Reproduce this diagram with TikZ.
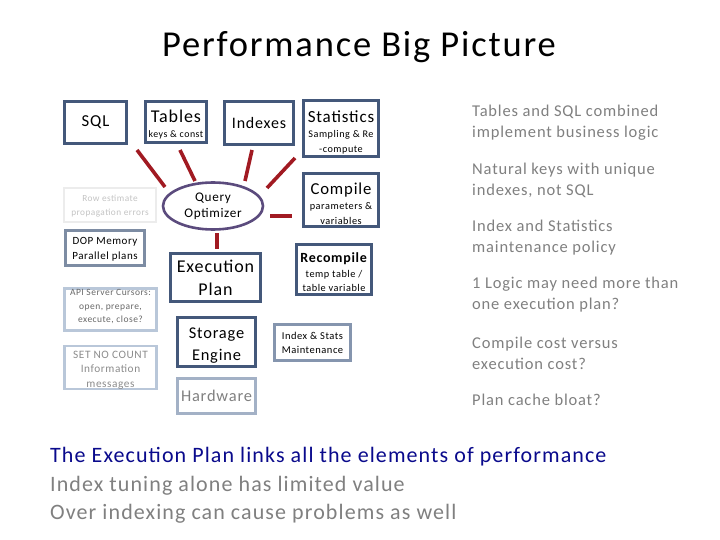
\documentclass[tikz,border=0pt]{standalone}
\usepackage{fontspec}
\setmainfont{Carlito}[LetterSpace=5]
\usetikzlibrary{shapes.geometric}
\definecolor{boxdark}{RGB}{68,88,122}
\definecolor{boxmid}{RGB}{125,140,163}
\definecolor{boxis}{RGB}{133,149,174}
\definecolor{boxhw}{RGB}{163,177,198}
\definecolor{boxlight}{RGB}{185,199,217}
\definecolor{boxfaint}{RGB}{236,236,236}
\definecolor{ellcol}{RGB}{91,75,125}
\definecolor{linkred}{RGB}{161,26,34}
\definecolor{graytext}{RGB}{128,128,128}
\definecolor{bluetext}{RGB}{10,10,140}
\newcommand{\fs}[2]{\fontsize{#1}{#2}\selectfont}
\newcommand{\up}[1]{\rule{0pt}{#1}}
\newcommand{\dn}[1]{\rule[-#1]{0pt}{0pt}}
\tikzset{
  box/.style={draw=boxdark, line width=2.6pt, fill=white, rectangle, align=center, inner sep=0pt},
  link/.style={draw=linkred, line width=3.6pt},
  side/.style={anchor=west, align=left, text=graytext, inner sep=0pt, font=\fs{16.5}{21}},
  bottom/.style={anchor=base west, inner sep=0pt, font=\fs{22}{29}}
}
\begin{document}
\begin{tikzpicture}[x=1pt,y=-1pt]
\fill[white] (0,0) rectangle (720,540);
\useasboundingbox (0,0) rectangle (720,540);

\node[inner sep=0pt, font=\fs{36.5}{40}] (title) at (359,47) {Performance Big Picture};

% top row
\node[box, font=\fs{16.7}{18}, minimum width=62pt, minimum height=42pt] (sql) at (95.5,122.5) {SQL};
\node[box, font=\fs{9.9}{15}, minimum width=61pt, minimum height=41pt] (tables) at (176,122) {{\fs{18}{15}\up{18.5pt}Tables}\\keys \& const};
\node[box, font=\fs{16}{18}, minimum width=69pt, minimum height=43pt] (indexes) at (259,123) {Indexes};
\node[box, font=\fs{10.2}{14.5}, minimum width=75pt, minimum height=56pt] (stats) at (341,128.5) {{\fs{17}{14.5}\up{20pt}Statistics}\\[0.5pt]Sampling \& Re\\-compute};
\node[box, font=\fs{10.3}{14.5}, minimum width=75pt, minimum height=53pt] (compile) at (341,200) {{\fs{16.7}{14.5}\up{19pt}Compile}\\[0.5pt]parameters \&\\variables};
\node[box, font=\fs{10.3}{13.3}, minimum width=75pt, minimum height=50pt] (recompile) at (334,269.5) {{\fs{14}{14}\up{15pt}\textbf{Recompile}}\\[1.5pt]temp table /\\table variable};
\node[box, draw=boxis, font=\fs{10.5}{14}, minimum width=76pt, minimum height=36pt] (idxstats) at (312.5,342.5) {Index \& Stats\\Maintenance};

% centre column
\node[draw=ellcol, line width=2.6pt, ellipse, minimum width=100pt, minimum height=47pt, inner sep=0pt, fill=white, align=center, font=\fs{13.2}{16}] (qo) at (213,206) {Query\\Optimizer};
\node[box, font=\fs{18}{23}, minimum width=90pt, minimum height=48pt] (exec) at (215.5,277.5) {Execution\\Plan};
\node[box, font=\fs{16.4}{22}, minimum width=78pt, minimum height=49pt] (storage) at (216.5,342) {\up{18.5pt}Storage\\Engine};
\node[box, draw=boxhw, text=graytext, font=\fs{16.4}{18}, minimum width=78pt, minimum height=35pt] (hw) at (216.5,396) {Hardware};

% left column
\node[box, draw=boxfaint, text={rgb,255:red,196;green,196;blue,196}, font=\fs{9.3}{14}, minimum width=92pt, minimum height=34pt] (rowest) at (110,205) {\up{9pt}Row estimate\\propagation errors};
\node[box, draw=boxmid, font=\fs{11}{15}, minimum width=79pt, minimum height=35pt] (dop) at (105,248) {\up{10.5pt}DOP Memory\\Parallel plans};
\node[box, draw=boxlight, text={rgb,255:red,105;green,105;blue,105}, font=\fs{9.5}{13.5}, minimum width=92pt, minimum height=42pt] (api) at (110.5,309.5) {API Server Cursors:\\open, prepare,\\execute, close?\dn{6.5pt}};
\node[box, draw=boxlight, text={rgb,255:red,140;green,140;blue,140}, font=\fs{11.3}{14.5}, minimum width=92pt, minimum height=42pt] (setnc) at (110.5,367.5) {\up{12pt}SET NO COUNT\\Information\\messages};

% connector ends
\coordinate (l1a) at (137,150); \coordinate (l1b) at (165,187);
\coordinate (l2a) at (180,150); \coordinate (l2b) at (195,181);
\coordinate (l3a) at (252,150); \coordinate (l3b) at (245,181);
\coordinate (l4a) at (295,158); \coordinate (l4b) at (267,188);
\coordinate (l5a) at (270,216); \coordinate (l5b) at (292,216);
\coordinate (l6a) at (217,233); \coordinate (l6b) at (217,249);
\draw[link] (l1a) -- (l1b);
\draw[link] (l2a) -- (l2b);
\draw[link] (l3a) -- (l3b);
\draw[link] (l4a) -- (l4b);
\draw[link] (l5a) -- (l5b);
\draw[link] (l6a) -- (l6b);

% right column notes
\node[side] (n1) at (472,122.5) {Tables and SQL combined\\implement business logic};
\node[side] (n2) at (472,180) {Natural keys with unique\\indexes, not SQL};
\node[side] (n3) at (472,237.5) {Index and Statistics\\maintenance policy};
\node[side] (n4) at (472,295) {1 Logic may need more than\\one execution plan?};
\node[side] (n5) at (472,353) {Compile cost versus\\execution cost?};
\node[side] (n6) at (472,400) {Plan cache bloat?};

% bottom lines
\node[bottom, text=bluetext] (b1) at (50,462) {The Execution Plan links all the elements of performance};
\node[bottom, text=graytext] (b2) at (50,491) {Index tuning alone has limited value};
\node[bottom, text=graytext] (b3) at (50,519) {Over indexing can cause problems as well};
\end{tikzpicture}
\end{document}
